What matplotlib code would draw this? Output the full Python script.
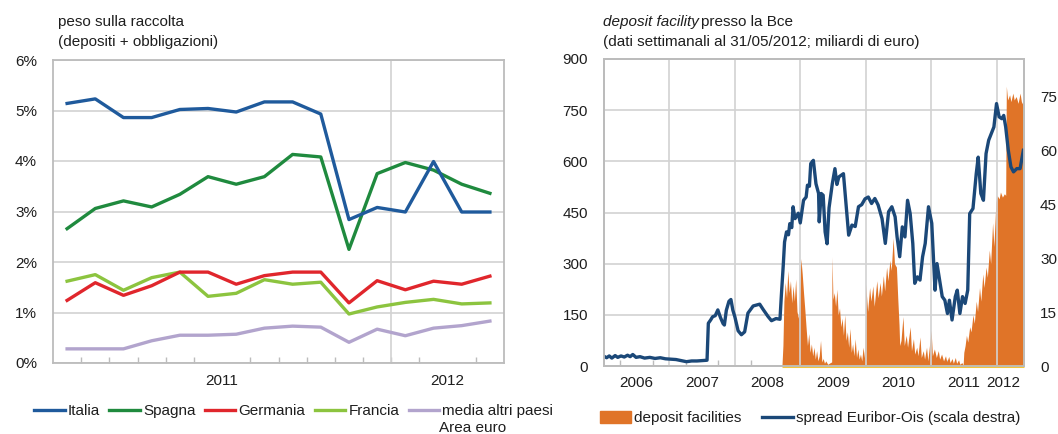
import matplotlib
matplotlib.use("Agg")
import matplotlib.pyplot as plt
from matplotlib.patches import Patch
import numpy as np

plt.rcParams["font.family"] = ["Liberation Sans", "DejaVu Sans"]

# ---------------------------------------------------------------------------
# Pannello sinistro: peso sulla raccolta (dati mensili, gen 2011 - apr 2012)
# ---------------------------------------------------------------------------
anno_mese = [2011] * 12 + [2012] * 4
italia = [5.14, 5.23, 4.86, 4.86, 5.02, 5.04, 4.97, 5.17, 5.17, 4.93,
          2.84, 3.08, 2.99, 3.99, 2.99, 2.99]
spagna = [2.66, 3.06, 3.21, 3.09, 3.34, 3.69, 3.54, 3.69, 4.13, 4.08,
          2.25, 3.75, 3.97, 3.82, 3.54, 3.36]
germania = [1.24, 1.59, 1.34, 1.53, 1.80, 1.80, 1.56, 1.73, 1.80, 1.80,
            1.19, 1.63, 1.45, 1.62, 1.56, 1.72]
francia = [1.62, 1.75, 1.44, 1.69, 1.80, 1.32, 1.38, 1.65, 1.56, 1.60,
           0.97, 1.11, 1.20, 1.26, 1.17, 1.19]
media_altri = [0.28, 0.28, 0.28, 0.44, 0.55, 0.55, 0.57, 0.69, 0.73, 0.71,
               0.41, 0.67, 0.54, 0.69, 0.74, 0.83]

# ---------------------------------------------------------------------------
# Pannello destro: deposit facility (miliardi) e spread Euribor-Ois (p.b.)
# tempi in anni decimali
# ---------------------------------------------------------------------------
dep_t = [2006.00, 2008.72, 2008.735, 2008.75, 2008.77, 2008.79, 2008.81, 2008.83,
         2008.85, 2008.87, 2008.89, 2008.91, 2008.93, 2008.95, 2008.97, 2008.99,
         2009.01, 2009.03, 2009.05, 2009.07, 2009.09, 2009.11, 2009.13, 2009.15,
         2009.17, 2009.19, 2009.21, 2009.23, 2009.25, 2009.27, 2009.29, 2009.31,
         2009.33, 2009.35, 2009.37, 2009.39, 2009.42, 2009.46, 2009.48, 2009.485,
         2009.50, 2009.52, 2009.54, 2009.56, 2009.58, 2009.60, 2009.62, 2009.64,
         2009.66, 2009.68, 2009.70, 2009.72, 2009.74, 2009.76, 2009.78, 2009.80,
         2009.82, 2009.84, 2009.86, 2009.88, 2009.90, 2009.92, 2009.94, 2009.96,
         2009.985, 2010.00, 2010.03, 2010.06, 2010.08, 2010.11, 2010.13, 2010.17,
         2010.19, 2010.22, 2010.24, 2010.27, 2010.29, 2010.32, 2010.34, 2010.37,
         2010.39, 2010.42, 2010.44, 2010.47, 2010.49, 2010.51, 2010.52, 2010.54,
         2010.57, 2010.59, 2010.62, 2010.64, 2010.68, 2010.70, 2010.73, 2010.75,
         2010.78, 2010.80, 2010.83, 2010.85, 2010.88, 2010.90, 2010.93, 2010.95,
         2011.00, 2011.02, 2011.05, 2011.08, 2011.11, 2011.13, 2011.16, 2011.19,
         2011.22, 2011.24, 2011.27, 2011.29, 2011.32, 2011.34, 2011.37, 2011.39,
         2011.42, 2011.44, 2011.47, 2011.49, 2011.50, 2011.52, 2011.54, 2011.56,
         2011.59, 2011.61, 2011.64, 2011.66, 2011.69, 2011.71, 2011.74, 2011.76,
         2011.79, 2011.81, 2011.84, 2011.86, 2011.89, 2011.91, 2011.94, 2011.96,
         2011.99, 2012.01, 2012.04, 2012.06, 2012.09, 2012.12, 2012.14, 2012.15,
         2012.17, 2012.20, 2012.22, 2012.25, 2012.27, 2012.30, 2012.33, 2012.36,
         2012.38, 2012.42]
dep_v = [0, 0, 60, 190, 245, 200, 280, 215,
         250, 185, 235, 190, 255, 160, 140, 215,
         315, 270, 215, 165, 110, 60, 95, 40,
         65, 30, 55, 20, 45, 15, 30, 75,
         12, 22, 8, 15, 5, 10, 12, 320,
         195, 215, 175, 225, 150, 170, 115, 140,
         90, 150, 75, 100, 55, 110, 40, 65,
         30, 80, 25, 50, 20, 35, 15, 55,
         20, 240, 160, 230, 190, 235, 175, 250,
         200, 245, 205, 265, 220, 290, 250, 310,
         280, 375, 300, 290, 200, 120, 60, 75,
         145, 60, 90, 55, 115, 45, 80, 35,
         55, 30, 85, 25, 45, 20, 55, 15,
         105, 30, 50, 25, 45, 20, 35, 15,
         30, 12, 28, 10, 22, 8, 25, 8,
         18, 5, 10, 3, 40, 60, 90, 70,
         115, 100, 150, 125, 190, 160, 230, 190,
         270, 230, 290, 260, 340, 300, 420, 350,
         480, 500, 490, 510, 495, 505, 500, 820,
         780, 795, 775, 800, 780, 790, 770, 800,
         775, 760]

spread_t = [2006.00, 2006.04, 2006.08, 2006.12, 2006.17, 2006.21, 2006.26, 2006.31,
            2006.36, 2006.40, 2006.44, 2006.49, 2006.55, 2006.62, 2006.70, 2006.78,
            2006.86, 2006.94, 2007.02, 2007.10, 2007.18, 2007.26, 2007.34, 2007.42,
            2007.50, 2007.575, 2007.595, 2007.63, 2007.66, 2007.70, 2007.74, 2007.78,
            2007.82, 2007.84, 2007.87, 2007.91, 2007.94, 2007.97, 2008.00, 2008.05,
            2008.10, 2008.15, 2008.20, 2008.28, 2008.38, 2008.43, 2008.51, 2008.56,
            2008.63, 2008.69, 2008.71, 2008.74, 2008.76, 2008.79, 2008.82, 2008.84,
            2008.87, 2008.89, 2008.92, 2008.97, 2009.00, 2009.05, 2009.09, 2009.11,
            2009.14, 2009.16, 2009.20, 2009.24, 2009.28, 2009.29, 2009.32, 2009.35,
            2009.38, 2009.41, 2009.44, 2009.49, 2009.53, 2009.56, 2009.59, 2009.66,
            2009.69, 2009.74, 2009.79, 2009.84, 2009.89, 2009.94, 2009.99, 2010.04,
            2010.09, 2010.14, 2010.19, 2010.25, 2010.30, 2010.35, 2010.40, 2010.45,
            2010.48, 2010.52, 2010.56, 2010.60, 2010.64, 2010.68, 2010.72, 2010.75,
            2010.79, 2010.83, 2010.87, 2010.91, 2010.96, 2011.01, 2011.06, 2011.09,
            2011.13, 2011.17, 2011.21, 2011.25, 2011.28, 2011.32, 2011.37, 2011.40,
            2011.44, 2011.48, 2011.52, 2011.56, 2011.59, 2011.64, 2011.69, 2011.72,
            2011.76, 2011.80, 2011.84, 2011.88, 2011.93, 2011.96, 2012.00, 2012.04,
            2012.08, 2012.11, 2012.14, 2012.18, 2012.22, 2012.26, 2012.31, 2012.36,
            2012.41]
spread_v = [2.7, 2.3, 2.8, 2.2, 2.9, 2.4, 2.8, 2.5,
            3.0, 2.6, 3.2, 2.4, 2.6, 2.2, 2.4, 2.1,
            2.3, 2.0, 1.9, 1.8, 1.5, 1.2, 1.4, 1.4,
            1.5, 1.6, 11.9, 12.8, 13.7, 14.0, 15.6, 13.5,
            11.8, 11.4, 15.5, 18.0, 18.5, 15.5, 13.7, 9.8,
            8.7, 9.5, 14.7, 16.7, 17.2, 15.8, 13.7, 12.6,
            13.2, 13.0, 19.3, 28.0, 34.5, 37.3, 36.5, 39.6,
            38.5, 44.3, 41.0, 42.5, 39.8, 46.1, 47.0, 50.3,
            50.0, 56.3, 57.2, 50.7, 48.0, 40.1, 48.0, 47.5,
            37.3, 34.0, 44.0, 50.7, 54.9, 50.5, 52.6, 53.5,
            47.0, 36.4, 39.2, 38.8, 44.3, 44.9, 46.5, 47.0,
            45.2, 46.6, 44.8, 41.0, 34.1, 42.9, 44.3, 41.5,
            35.9, 30.4, 38.7, 35.9, 46.1, 42.4, 34.1, 23.0,
            24.8, 23.9, 30.4, 34.1, 44.3, 39.7, 21.1, 28.5,
            23.9, 19.3, 18.3, 14.6, 18.3, 12.8, 19.3, 21.1,
            14.6, 19.3, 17.4, 21.1, 42.4, 43.8, 53.5, 58.1,
            48.0, 46.1, 59.1, 62.8, 65.1, 66.5, 73.0, 69.3,
            68.8, 69.7, 66.5, 60.0, 55.4, 54.0, 54.9, 54.9,
            60.0]

anni = [2006, 2007, 2008, 2009, 2010, 2011, 2012]

# ---- stile -----------------------------------------------------------------
W, H = 1058, 434
TXT = "#1e1e1e"
GRID = "#d2d2d2"
FRAME = "#bcbcbc"
ORANGE = "#e07428"
NAVY = "#1b4878"
FS = 11
YPAD = 11.5  # ~16 px

fig = plt.figure(figsize=(W / 100, H / 100), dpi=100)
ax1 = fig.add_axes([53 / W, 1 - 363 / H, 451 / W, 303 / H])
ax2 = fig.add_axes([604 / W, 1 - 366 / H, 420 / W, 307 / H])
ax3 = ax2.twinx()

# ---- pannello sinistro -----------------------------------------------------
x = np.arange(len(italia))
series = [
    ("Italia", italia, "#1f5a9c"),
    ("Spagna", spagna, "#1f8a3e"),
    ("Germania", germania, "#e0262c"),
    ("Francia", francia, "#8cc43f"),
    ("media altri paesi", media_altri, "#b2a4cd"),
]
handles = {}
for name, vals, col in reversed(series):
    (ln,) = ax1.plot(x, vals, color=col, lw=2.4, solid_joinstyle="round",
                     zorder=3)
    handles[name] = ln

ax1.set_xlim(-0.5, len(x) - 0.5)
ax1.set_ylim(0, 6)
ax1.set_yticks(range(7))
ax1.set_yticklabels([f"{v}%" for v in range(7)])
ax1.yaxis.grid(True, color=GRID, lw=1.2)
ax1.set_axisbelow(True)

anno_arr = np.array(anno_mese)
lab_pos = [x[anno_arr == a].mean() for a in sorted(set(anno_mese))]
ax1.set_xticks(lab_pos)
ax1.set_xticklabels([str(a) for a in sorted(set(anno_mese))])
ax1.set_xticks(x[:-1] + 0.5, minor=True)
for a in sorted(set(anno_mese))[1:]:
    ax1.axvline(x[anno_arr == a][0] - 0.5, color=GRID, lw=1.2, zorder=1)
ax1.tick_params(axis="x", which="major", length=0, pad=8, labelsize=FS,
                colors=TXT)
ax1.tick_params(axis="x", which="minor", direction="in", length=4,
                color=FRAME, width=1)
ax1.tick_params(axis="y", length=0, pad=YPAD, labelsize=FS, colors=TXT)
for sp in ax1.spines.values():
    sp.set_color(FRAME)
    sp.set_linewidth(1.3)

fig.text(58 / W, 1 - 26 / H, "peso sulla raccolta", fontsize=FS, color=TXT,
         va="baseline")
fig.text(58 / W, 1 - 46 / H, "(depositi + obbligazioni)", fontsize=FS,
         color=TXT, va="baseline")

leg1 = fig.legend([handles[n] for n, _, _ in series],
                  [n for n, _, _ in series],
                  loc="center left", bbox_to_anchor=(34 / W, 1 - 411 / H),
                  ncol=5, frameon=False, fontsize=FS, handlelength=2.0,
                  handletextpad=0.2, columnspacing=0.62, borderaxespad=0,
                  borderpad=0)
for t in leg1.get_texts():
    t.set_color(TXT)
fig.text(439 / W, 1 - 432 / H, "Area euro", fontsize=FS, color=TXT,
         va="baseline")

# ---- pannello destro -------------------------------------------------------
ax2.fill_between(dep_t, dep_v, 0, color=ORANGE, lw=0, zorder=2)
dep_arr = np.array(dep_v)
start = dep_t[int(np.argmax(dep_arr > 0)) - 1]
ax2.hlines(0, start, dep_t[-1], color="#f3c53a", lw=2.2, zorder=4,
           clip_on=False)
ax2.vlines(dep_t[-1], 0, dep_v[-1], color="#f3c53a", lw=1.2, zorder=4)

ax2.set_xlim(spread_t[0], dep_t[-1])
ax2.set_ylim(0, 900)
ax2.set_yticks(range(0, 901, 150))
ax2.yaxis.grid(True, color=GRID, lw=1.2)
ax2.set_axisbelow(True)
for a in anni[1:]:
    ax2.axvline(a, color=GRID, lw=1.2, zorder=2.5)

year_lab = [a + 0.5 for a in anni[:-1]] + [anni[-1] + 0.1]
ax2.set_xticks(year_lab)
ax2.set_xticklabels([str(a) for a in anni])
quarters = [a + q for a in anni for q in (0.25, 0.5, 0.75)
            if a + q < dep_t[-1]]
ax2.set_xticks(quarters, minor=True)
ax2.tick_params(axis="x", which="major", length=0, pad=7, labelsize=FS,
                colors=TXT)
ax2.tick_params(axis="x", which="minor", direction="in", length=4,
                color=FRAME, width=1)
ax2.tick_params(axis="y", length=0, pad=YPAD, labelsize=FS, colors=TXT)

ax3.plot(spread_t, spread_v, color=NAVY, lw=2.4, solid_joinstyle="round")
ax3.set_ylim(0, 85.4)
ax3.set_yticks(range(0, 76, 15))
ax3.tick_params(axis="y", length=0, pad=YPAD, labelsize=FS, colors=TXT)
for axx in (ax2, ax3):
    for sp in axx.spines.values():
        sp.set_color(FRAME)
        sp.set_linewidth(1.3)

# titolo destro con parte in corsivo
renderer = fig.canvas.get_renderer()
t_it = fig.text(603 / W, 1 - 26 / H, "deposit facility", fontsize=FS,
                color=TXT, style="italic", va="baseline")
bb = t_it.get_window_extent(renderer=renderer)
fig.text(bb.x1 / W + 2 / W, 1 - 26 / H, "presso la Bce", fontsize=FS,
         color=TXT, va="baseline")
fig.text(603 / W, 1 - 46 / H,
         "(dati settimanali al 31/05/2012; miliardi di euro)", fontsize=FS,
         color=TXT, va="baseline")

leg2 = fig.legend([Patch(color=ORANGE), plt.Line2D([], [], color=NAVY, lw=2.4)],
                  ["deposit facilities", "spread Euribor-Ois (scala destra)"],
                  loc="center left", bbox_to_anchor=(600 / W, 1 - 418 / H),
                  ncol=2, frameon=False, fontsize=FS, handlelength=2.0,
                  handleheight=0.8, handletextpad=0.2, columnspacing=1.4,
                  borderaxespad=0, borderpad=0)
for t in leg2.get_texts():
    t.set_color(TXT)

fig.savefig("out.png", dpi=100)
